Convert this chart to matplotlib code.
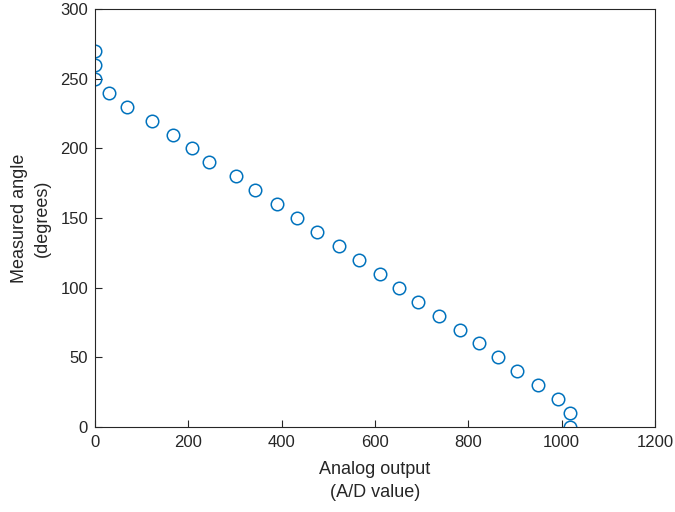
import matplotlib
matplotlib.use('Agg')
import matplotlib.pyplot as plt

# Data
ad_value = [1, 1, 1, 30, 68, 123, 167, 208, 244, 302, 343, 391, 434, 475,
            522, 565, 610, 652, 693, 737, 782, 822, 864, 905, 949, 993, 1018, 1018]
angle_deg = [270, 260, 250, 240, 230, 220, 210, 200, 190, 180, 170, 160, 150, 140,
             130, 120, 110, 100, 90, 80, 70, 60, 50, 40, 30, 20, 10, 0]

plt.rcParams['font.family'] = ['Liberation Sans', 'DejaVu Sans']

fig = plt.figure(figsize=(6.75, 5.12), dpi=100)
ax = fig.add_axes([0.1407, 0.166, 0.8296, 0.816])

ax.plot(ad_value, angle_deg, 'o', markersize=9, markerfacecolor='none',
        markeredgecolor='#0072BD', markeredgewidth=1.1)

ax.set_xlim(0, 1200)
ax.set_ylim(0, 300)
ax.set_xticks(range(0, 1201, 200))
ax.set_yticks(range(0, 301, 50))
ax.tick_params(direction='in', length=5, colors='#262626', labelsize=12)
ax.tick_params(axis='x', pad=6)
ax.tick_params(axis='y', pad=5)
for s in ax.spines.values():
    s.set_color('#262626')
    s.set_linewidth(0.8)

ax.set_xlabel('Analog output\n(A/D value)', color='#262626', fontsize=13,
              linespacing=1.4, labelpad=8)
ax.set_ylabel('Measured angle\n(degrees)', color='#262626', fontsize=13,
              linespacing=1.4, labelpad=7)

fig.savefig('out.png', dpi=100)
